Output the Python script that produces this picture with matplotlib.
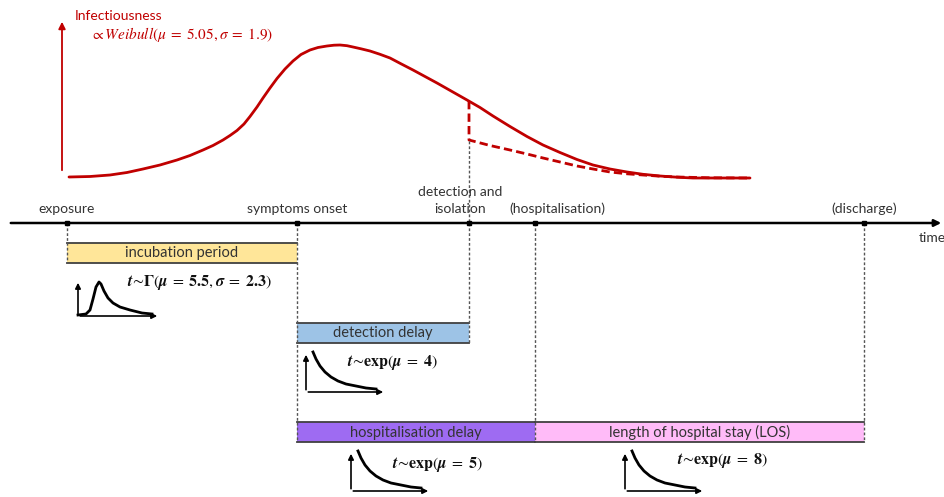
import matplotlib.pyplot as plt
import numpy as np

# diagram drawn in pixel-like units (x right, y down)
event_labels = ["exposure", "symptoms onset", "detection and\nisolation", "(hospitalisation)", "(discharge)"]
event_x = [67, 297, 469, 535, 864]
event_label_x = [67, 297, 460, 557, 864]
event_drop = [263, 442, 343, 442, 442]   # how far each dashed guide goes down

period_labels = ["incubation period", "detection delay", "hospitalisation delay", "length of hospital stay (LOS)"]
period_start = [67, 297, 297, 535]
period_end = [297, 469, 535, 864]
period_top = [243, 323, 422, 422]
period_colors = ["#FFE699", "#9DC3E6", "#9E6BF2", "#FFBBF8"]

# infectiousness curve
inf_x = [69, 90, 110, 127, 143, 160, 177, 190, 203, 213, 223, 230, 237, 244, 250, 257, 263, 270, 277,
         285, 293, 301, 310, 318, 327, 334, 340, 347, 353, 361, 370, 380, 390, 401, 413, 425, 437,
         452, 467, 480, 493, 510, 527, 543, 560, 577, 593, 610, 627, 643, 660, 677, 693, 720, 750]
inf_y = [177, 176.5, 175, 172.5, 169, 165, 160, 155.5, 150, 145.5, 140, 135.5, 130.5, 124, 116.5, 107, 98, 88, 78.5,
         69, 61, 54.5, 50, 47.5, 46, 45.2, 45, 45.7, 47, 48.8, 51, 54.3, 58, 63.8, 70, 76.5, 83,
         91.5, 100, 107.5, 116, 126.5, 136.5, 145, 152.5, 159.5, 165, 169, 172, 174.3, 176, 177.2, 178, 178, 178]
# curve after detection & isolation
iso_x = [469, 469, 490, 510, 527, 543, 560, 577, 593, 610, 627, 643, 660, 677, 710, 750]
iso_y = [101, 140, 145.5, 150, 154, 158, 162, 166, 169, 172, 173.8, 175, 176.2, 177, 177.8, 178]

# small distribution sketches: axis origin, curve points relative to origin
inset_origin = [(78, 316), (306, 392), (351, 491), (625, 491)]
inset_texts = [r"$\mathbfit{t}\!\sim\!\mathbf{\Gamma}(\mathbfit{\mu}\;=\;\mathbf{5.5},\mathbfit{\sigma}\;=\;\mathbf{2.3})$",
               r"$\mathbfit{t}\!\sim\!\mathbf{exp}(\mathbfit{\mu}\;=\;\mathbf{4})$",
               r"$\mathbfit{t}\!\sim\!\mathbf{exp}(\mathbfit{\mu}\;=\;\mathbf{5})$",
               r"$\mathbfit{t}\!\sim\!\mathbf{exp}(\mathbfit{\mu}\;=\;\mathbf{8})$"]
inset_text_xy = [(127, 283), (347, 362), (392, 464), (677, 461)]
gamma_dx = [0, 8, 12, 15, 18, 21, 23, 26, 30, 35, 42, 52, 64, 74]
gamma_dy = [0, -1, -5, -16, -28, -33, -31, -24, -17, -12, -8, -5, -2, -1]
exp_dx = [7, 10, 14, 19, 25, 32, 40, 50, 60, 70]
exp_dy = [-39, -32, -25, -19, -14, -10, -7, -5, -3, -2]

plt.rcParams["font.family"] = ["Lato", "DejaVu Sans"]
plt.rcParams["mathtext.fontset"] = "stix"

fig = plt.figure(figsize=(9.44, 4.97), dpi=100)
ax = fig.add_axes([0, 0, 1, 1])
ax.set_xlim(0, 944)
ax.set_ylim(497, 0)
ax.axis("off")

red = "#C00000"
dark = "#333333"

# infectiousness
ax.plot(inf_x, inf_y, color=red, lw=2, solid_capstyle="round", solid_joinstyle="round")
ax.plot(iso_x, iso_y, color=red, lw=2, ls=(0, (3, 1.5)))
ax.annotate("", xy=(62, 19), xytext=(62, 173),
            arrowprops=dict(arrowstyle="-|>", color=red, lw=1.3, mutation_scale=10))
ax.text(75, 16, "Infectiousness", color=red, fontsize=10, va="center")
ax.text(90, 35, r"$\propto Weibull(\mu\;=\;5.05,\sigma\;=\;1.9)$", color=red, fontsize=11, va="center")

# timeline
ax.annotate("", xy=(944, 223), xytext=(8, 223),
            arrowprops=dict(arrowstyle="-|>", color="black", lw=1.8, mutation_scale=10))
ax.text(919, 238, "time", fontsize=10, va="center", ha="left", color=dark)

for lab, x, lx, drop in zip(event_labels, event_x, event_label_x, event_drop):
    ax.plot([x, x], [223, drop], color="#555555", lw=1, ls=(0, (2, 1.5)), zorder=3)
    ax.plot(x, 223, marker="s", ms=3.5, color="black", zorder=4)
    ax.text(lx, 215, lab, ha="center", va="bottom", fontsize=10, color=dark, linespacing=1.5)
# dashed line up to the curve at detection
ax.plot([469, 469], [141, 223], color="#555555", lw=1, ls=(0, (2, 1.5)))

# period boxes
for lab, x0, x1, top, col in zip(period_labels, period_start, period_end, period_top, period_colors):
    ax.fill_between([x0, x1], top, top + 20, color=col, lw=0, zorder=1)
    ax.plot([x0, x1], [top, top], color="#404040", lw=1.3, zorder=2)
    ax.plot([x0, x1], [top + 20, top + 20], color="#404040", lw=1.3, zorder=2)
    ax.text((x0 + x1) / 2, top + 10.5, lab, ha="center", va="center", fontsize=10.5, color=dark, zorder=3)

# distribution sketches
for i, (ox, oy) in enumerate(inset_origin):
    if i == 0:
        dx, dy = gamma_dx, gamma_dy
        w, h = 82, 36
    else:
        dx, dy = exp_dx, exp_dy
        w, h = 80, 40
    ax.annotate("", xy=(ox, oy - h), xytext=(ox, oy + 0.5),
                arrowprops=dict(arrowstyle="-|>", color="black", lw=1.2, mutation_scale=8))
    ax.annotate("", xy=(ox + w, oy), xytext=(ox - 0.5, oy),
                arrowprops=dict(arrowstyle="-|>", color="black", lw=1.2, mutation_scale=8))
    ax.plot(ox + np.array(dx), oy + np.array(dy) - 1, color="black", lw=2, solid_joinstyle="round")
    tx, ty = inset_text_xy[i]
    ax.text(tx, ty, inset_texts[i], fontsize=11.5, va="center", ha="left", color="#111111")

fig.savefig("out.png", dpi=100)
